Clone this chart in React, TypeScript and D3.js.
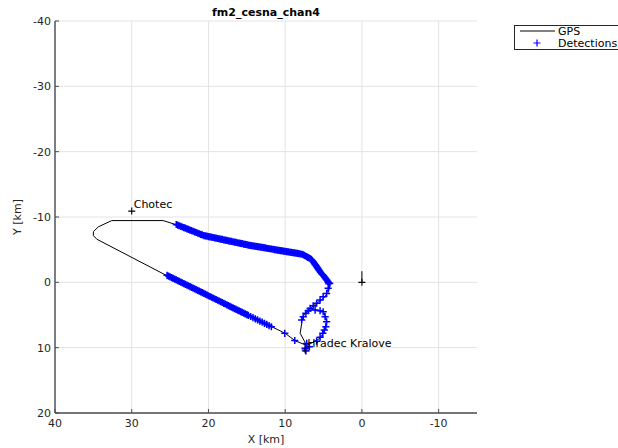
import React from "react";
import * as d3 from "d3";

const title = "fm2_cesna_chan4";
const xTicks = [40, 30, 20, 10, 0, -10];
const yTicks = [-40, -30, -20, -10, 0, 10, 20];

// GPS track [X km, Y km]
const gpsTrack: [number, number][] = [
  [7.2, 9.9], [7.45, 9.1], [8.05, 7.8], [7.85, 6.3], [7.85, 5.5], [7.4, 4.75], [6.9, 4.3],
  [6.3, 4.2], [5.0, 4.5], [4.6, 5.8], [4.8, 7.3], [5.45, 8.55], [6.55, 9.3], [7.2, 9.65],
  [8.7, 8.95], [10.0, 7.8], [11.75, 6.8], [25.55, -1.1], [34.55, -6.6], [35.0, -7.15],
  [35.0, -7.75], [34.35, -8.5], [32.6, -9.45], [25.9, -9.45], [24.15, -8.8], [20.7, -7.2],
  [14.6, -5.65], [7.65, -4.3], [6.4, -3.4], [5.2, -1.6], [4.35, -0.35], [4.15, 0.4],
  [4.35, 1.45], [5.0, 2.45], [5.9, 3.2], [6.75, 4.0], [7.4, 4.75],
];

// Detections, upper leg
const detUpper: [number, number][] = [
  [24.2, -8.85], [24.0, -8.76], [23.8, -8.66], [23.6, -8.57], [23.4, -8.47], [23.2, -8.38],
  [23.0, -8.29], [22.8, -8.19], [22.6, -8.1], [22.4, -8.0], [22.2, -7.91], [22.0, -7.82],
  [21.8, -7.72], [21.6, -7.63], [21.4, -7.53], [21.2, -7.44], [21.0, -7.35], [20.8, -7.25],
  [20.6, -7.16], [20.4, -7.11], [20.2, -7.06], [20.0, -7.01], [19.8, -6.96], [19.6, -6.91],
  [19.4, -6.86], [19.2, -6.81], [19.0, -6.76], [18.8, -6.71], [18.6, -6.66], [18.4, -6.61],
  [18.2, -6.56], [18.0, -6.51], [17.8, -6.46], [17.6, -6.41], [17.4, -6.36], [17.2, -6.31],
  [17.0, -6.26], [16.8, -6.21], [16.6, -6.16], [16.4, -6.11], [16.2, -6.06], [16.0, -6.01],
  [15.8, -5.96], [15.6, -5.91], [15.4, -5.86], [15.2, -5.81], [15.0, -5.76], [14.8, -5.71],
  [14.6, -5.66], [14.4, -5.62], [14.2, -5.58], [14.0, -5.54], [13.8, -5.5], [13.6, -5.46],
  [13.4, -5.42], [13.2, -5.38], [13.0, -5.34], [12.8, -5.3], [12.6, -5.26], [12.4, -5.22],
  [12.2, -5.18], [12.0, -5.14], [11.8, -5.1], [11.6, -5.06], [11.4, -5.02], [11.2, -4.98],
  [11.0, -4.94], [10.8, -4.9], [10.6, -4.86], [10.4, -4.82], [10.2, -4.78], [10.0, -4.74],
  [9.8, -4.7], [9.6, -4.66], [9.4, -4.62], [9.2, -4.58], [9.0, -4.54], [8.8, -4.5],
  [8.6, -4.46], [8.4, -4.42], [8.2, -4.38], [8.0, -4.34], [7.8, -4.3], [7.65, -4.22],
  [7.5, -4.13], [7.35, -4.03], [7.2, -3.93], [7.05, -3.83], [6.9, -3.73], [6.75, -3.62],
  [6.6, -3.5], [6.48, -3.35], [6.37, -3.2], [6.27, -3.03], [6.17, -2.86], [6.07, -2.69],
  [5.97, -2.52], [5.87, -2.35], [5.77, -2.18], [5.67, -2.01], [5.57, -1.84], [5.47, -1.67],
  [5.37, -1.5], [5.25, -1.33], [5.12, -1.16], [5.0, -0.99], [4.88, -0.82], [4.77, -0.65],
  [4.66, -0.48], [4.55, -0.31], [4.45, -0.14], [4.37, 0.03], [4.3, 0.2],
];

// Detections, lower leg
const detLower: [number, number][] = [
  [25.4, -1.07], [25.2, -0.96], [25.0, -0.84], [24.8, -0.72], [24.6, -0.61], [24.4, -0.49],
  [24.2, -0.38], [24.0, -0.26], [23.8, -0.15], [23.6, -0.03], [23.4, 0.08], [23.2, 0.2],
  [23.0, 0.32], [22.8, 0.43], [22.6, 0.55], [22.4, 0.66], [22.2, 0.78], [22.0, 0.89],
  [21.8, 1.01], [21.6, 1.13], [21.4, 1.24], [21.2, 1.36], [21.0, 1.47], [20.8, 1.59],
  [20.6, 1.7], [20.4, 1.82], [20.2, 1.93], [20.0, 2.05], [19.8, 2.17], [19.6, 2.28],
  [19.4, 2.4], [19.2, 2.51], [19.0, 2.63], [18.8, 2.74], [18.6, 2.86], [18.4, 2.97],
  [18.2, 3.09], [18.0, 3.21], [17.8, 3.32], [17.6, 3.44], [17.4, 3.55], [17.2, 3.67],
  [17.0, 3.78], [16.8, 3.9], [16.6, 4.02], [16.4, 4.13], [16.2, 4.25], [16.0, 4.36],
  [15.8, 4.48], [15.6, 4.59], [15.4, 4.71], [15.2, 4.83], [15.0, 4.94], [14.8, 5.06],
  [14.5, 5.23], [14.2, 5.4], [13.9, 5.58], [13.6, 5.75], [13.3, 5.93], [13.0, 6.1],
  [12.7, 6.27], [12.4, 6.45], [12.1, 6.62], [11.8, 6.8], [10.05, 7.8], [8.75, 8.9],
];

// Detections around the loop near Hradec Kralove
const detLoop: [number, number][] = [
  [4.2, 0.15], [4.4, 0.9], [4.6, 1.7], [5.05, 2.2], [5.45, 2.7], [5.9, 3.2], [6.35, 3.6],
  [6.75, 4.0], [7.0, 4.35], [7.3, 4.75], [7.65, 5.25], [7.85, 5.75],
  [6.1, 4.25], [5.45, 4.35], [5.05, 4.5],
  [4.8, 5.25], [4.6, 6.05], [4.7, 6.8], [4.9, 7.3], [5.1, 7.8], [5.45, 8.4], [5.9, 9.0],
  [7.2, 9.35], [6.85, 9.85], [7.4, 10.1], [7.3, 10.5],
];

const places = [
  { name: "Chotec", x: 30.0, y: -10.9 },
  { name: "Hradec Kralove", x: 7.4, y: 10.35 },
];
const receiver: [number, number] = [0, 0];
const receiverDir: [number, number] = [0, -1.7];

const W = 618;
const H = 448;

export default function App() {
  const x = d3.scaleLinear().domain([40, -15]).range([55, 477]);
  const y = d3.scaleLinear().domain([-40, 20]).range([21, 413]);
  const line = d3.line<[number, number]>().x((d) => x(d[0])).y((d) => y(d[1]));
  const plus = (cx: number, cy: number, s: number) =>
    `M${cx - s},${cy}H${cx + s}M${cx},${cy - s}V${cy + s}`;
  const dets = [...detUpper, ...detLower, ...detLoop];
  const font = "'DejaVu Sans', sans-serif";
  const txt = "#262626";
  const axisCol = "#4d4d4d";
  const x0 = x.range()[0], x1 = x.range()[1];
  const y0 = y.range()[0], y1 = y.range()[1];

  return (
    <svg width={W} height={H} style={{ position: "absolute", left: 0, top: 0, background: "#fff" }} fontFamily={font}>
      <rect x={0} y={0} width={W} height={H} fill="#fff" />
      {xTicks.map((t) => (
        <line key={"gx" + t} x1={x(t)} x2={x(t)} y1={y0} y2={y1} stroke="#e3e3e3" strokeWidth={1} />
      ))}
      {yTicks.map((t) => (
        <line key={"gy" + t} x1={x0} x2={x1} y1={y(t)} y2={y(t)} stroke="#e3e3e3" strokeWidth={1} />
      ))}
      <path d={line(gpsTrack) || ""} fill="none" stroke="#000" strokeWidth={1} />
      <path
        d={dets.map((d) => plus(x(d[0]), y(d[1]), 3.6)).join("")}
        fill="none"
        stroke="#0000ff"
        strokeWidth={1.5}
      />
      {places.map((p) => (
        <g key={p.name}>
          <path d={plus(x(p.x), y(p.y), 3.5)} stroke="#000" strokeWidth={1.1} />
          <text x={x(p.x) + 2} y={y(p.y) - 3} fontSize={11} fill="#000">{p.name}</text>
        </g>
      ))}
      <path d={plus(x(receiver[0]), y(receiver[1]), 3.5)} stroke="#000" strokeWidth={1.1} />
      <path d={line([receiver, receiverDir]) || ""} stroke="#000" strokeWidth={1} />
      <line x1={x0} x2={x0} y1={y0} y2={y1} stroke={axisCol} strokeWidth={1.4} />
      <line x1={x0} x2={x1} y1={y1} y2={y1} stroke={axisCol} strokeWidth={1.4} />
      {xTicks.map((t) => (
        <g key={"tx" + t}>
          <line x1={x(t)} x2={x(t)} y1={y1} y2={y1 - 4} stroke={axisCol} strokeWidth={1} />
          <text x={x(t)} y={y1 + 14} fontSize={11} fill={txt} textAnchor="middle">{t}</text>
        </g>
      ))}
      {yTicks.map((t) => (
        <g key={"ty" + t}>
          <line x1={x0} x2={x0 + 4} y1={y(t)} y2={y(t)} stroke={axisCol} strokeWidth={1} />
          <text x={x0 - 4} y={y(t) + 4} fontSize={11} fill={txt} textAnchor="end">{t}</text>
        </g>
      ))}
      <text x={(x0 + x1) / 2} y={443} fontSize={11} fill={txt} textAnchor="middle">X [km]</text>
      <text transform={`translate(21,${y(-10)}) rotate(-90)`} fontSize={11} fill={txt} textAnchor="middle">Y [km]</text>
      <text x={(x0 + x1) / 2} y={16} fontSize={11} fontWeight="bold" fill="#000" textAnchor="middle">{title}</text>
      <rect x={514.5} y={25.5} width={110} height={24} fill="#fff" stroke="#262626" strokeWidth={1} />
      <line x1={520} x2={555} y1={31} y2={31} stroke="#000" strokeWidth={1} />
      <text x={558} y={35} fontSize={11} fill="#000">GPS</text>
      <path d={plus(537, 43, 3.5)} stroke="#0000ff" strokeWidth={1.2} />
      <text x={558} y={47} fontSize={11} fill="#000">Detections</text>
    </svg>
  );
}
